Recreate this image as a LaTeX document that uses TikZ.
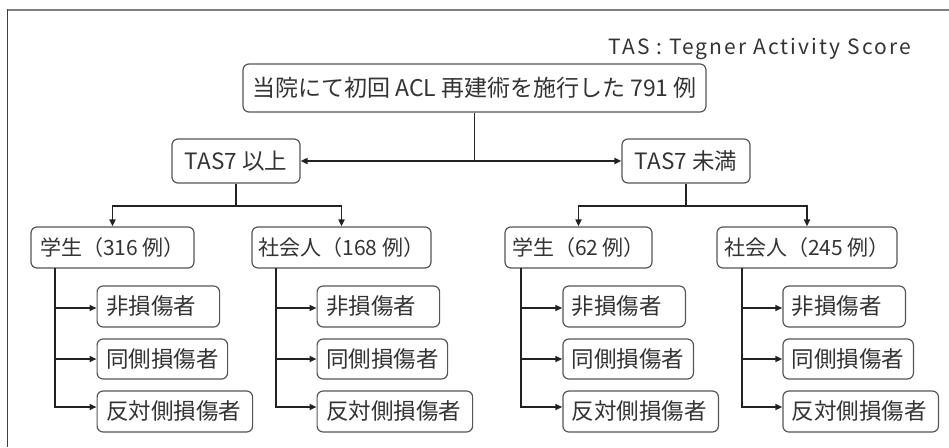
\documentclass[tikz,border=0pt]{standalone}
\usepackage{fontspec}
\setmainfont{Noto Sans CJK JP}
\newfontfamily\notefont{Noto Sans CJK JP}[LetterSpace=10]
\usetikzlibrary{arrows.meta,calc}
\definecolor{txt}{HTML}{333333}
\definecolor{boxline}{HTML}{555555}
\definecolor{conn}{HTML}{222222}
\begin{document}
\begin{tikzpicture}[x=1pt,y=-1pt,
  box/.style={draw=boxline, line width=1.2pt, rounded corners=6pt, text=txt,
    inner xsep=0pt, inner ysep=0pt, align=left,
    font=\fontsize{22.5}{26}\selectfont},
  midbox/.style={box, minimum height=41, align=center, font=\fontsize{21}{25}\selectfont},
  conline/.style={draw=conn, line width=1.8pt},
  arr/.style={conline, -{Triangle[length=7pt,width=6pt]}},
  arrboth/.style={conline, {Triangle[length=7pt,width=6pt]}-{Triangle[length=7pt,width=6pt]}}]
\useasboundingbox (0,0) rectangle (949,447);
% frame
\draw[draw=black!50, line width=2pt] (7.5,10) -- (949,10);
\draw[draw=black!75, line width=1.5pt] (7.5,9) -- (7.5,447);
\node[anchor=east, text=txt, font=\notefont\fontsize{21}{24}\selectfont, inner sep=0pt] (note) at (911,49) {TAS : Tegner Activity Score};
% top level
\node[box, minimum width=463, minimum height=48, align=center, font=\fontsize{23}{26}\selectfont] (top) at (474.5,88) {当院にて初回 ACL 再建術を施行した 791 例};
\node[box, minimum width=128, minimum height=44, align=center] (t1) at (236,161) {TAS7 以上};
\node[box, minimum width=128, minimum height=44, align=center] (t2) at (686,161) {TAS7 未満};
% second level
\node[midbox, minimum width=163] (s1) at (112.5,247.5) {学生（316 例）};
\node[midbox, minimum width=179] (w1) at (341.5,247.5) {社会人（168 例）};
\node[midbox, minimum width=147] (s2) at (578.5,247.5) {学生（62 例）};
\node[midbox, minimum width=180] (w2) at (807,247.5) {社会人（245 例）};
% leaves
\foreach \g/\lx in {a/96.5, b/316.5, c/562.3, d/782.3}{
  \node[box, anchor=west, minimum width=122.5, minimum height=41, text width=122.5] (\g1) at (\lx,306.5) {\hspace*{9pt}非損傷者};
  \node[box, anchor=west, minimum width=130.5, minimum height=40, text width=130.5] (\g2) at (\lx,359) {\hspace*{9pt}同側損傷者};
  \node[box, anchor=west, minimum width=155.5, minimum height=41, text width=155.5] (\g3) at (\lx,411.5) {\hspace*{9pt}反対側損傷者};
}
% connectors top
\coordinate (jt) at (top.south |- t1.east);
\draw[conline] (top.south) -- (jt);
\draw[arrboth] (t1.east) -- (t2.west);
\coordinate (j1) at ($(t1.south)+(0,22)$);
\coordinate (j2) at ($(t2.south)+(0,22)$);
\draw[conline] (t1.south) -- (j1);
\draw[conline] (t2.south) -- (j2);
\draw[arr] (j1) -| (s1.north);
\draw[arr] (j1) -| (w1.north);
\draw[arr] (j2) -| (s2.north);
\draw[arr] (j2) -| (w2.north);
% trunks
\coordinate (va) at (55,268);
\coordinate (vb) at (276,268);
\coordinate (vc) at (521,268);
\coordinate (vd) at (742,268);
\foreach \g in {a,b,c,d}{
  \draw[arr] (v\g) |- ([yshift=-1.5pt]\g1.west);
  \draw[arr] (v\g) |- (\g2.west);
  \draw[arr] (v\g) |- ([yshift=4.5pt]\g3.west);
}
\end{tikzpicture}
\end{document}
